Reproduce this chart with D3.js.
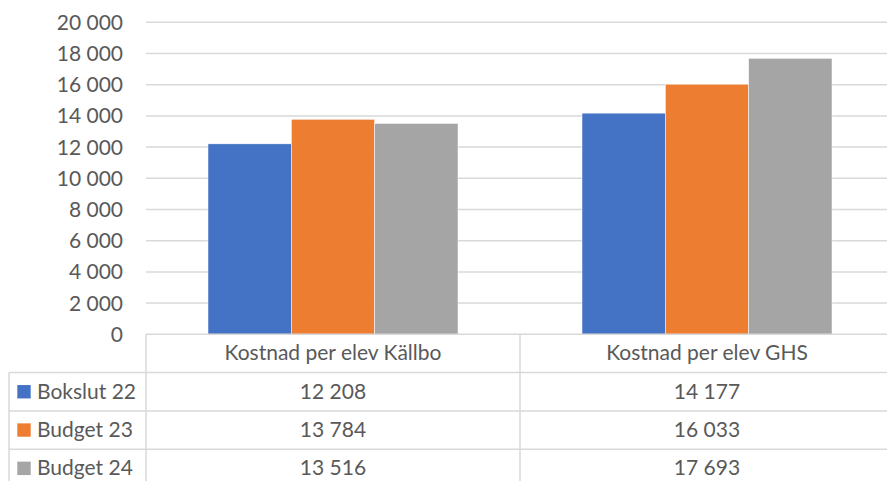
<!DOCTYPE html>
<html>
<head>
<meta charset="utf-8">
<script src="https://cdn.jsdelivr.net/npm/d3@7"></script>
<style>
  body { margin: 0; background: #fff; }
  svg text { font-family: Lato, "Open Sans", sans-serif; fill: #595959; }
</style>
</head>
<body>
<div class="container"></div>
<script>
// data
var categories = ['Kostnad per elev Källbo', 'Kostnad per elev GHS'];
var seriesNames = ['Bokslut 22', 'Budget 23', 'Budget 24'];
var bokslut22 = [12208, 14177];
var budget23 = [13784, 16033];
var budget24 = [13516, 17693];
var yTicks = [0, 2000, 4000, 6000, 8000, 10000, 12000, 14000, 16000, 18000, 20000];
var colors = ['#4472C4', '#ED7D31', '#A5A5A5'];

var seriesValues = [bokslut22, budget23, budget24];

var width = 887, height = 481;
var svg = d3.select('.container')
  .append('svg')
  .attr('width', width)
  .attr('height', height);

// layout
var plotLeft = 146, plotRight = 894,
  plotTop = 22.3, plotBottom = 334.3,
  tableLeft = 9, rowH = 38.3;
var fontSize = '21px';

var fmt = d3.formatLocale({ decimal: ',', thousands: ' ', grouping: [3], currency: ['', ''] }).format(',d');

var y = d3.scaleLinear().domain([0, 20000]).range([plotBottom, plotTop]);
var x0 = d3.scaleBand().domain(categories).range([plotLeft, plotRight]);
var x1 = d3.scaleBand().domain(seriesNames).range([0, x0.bandwidth()]).paddingOuter(0.744);

// gridlines
svg.append('g').selectAll('line')
  .data(yTicks.slice(1))
  .enter()
  .append('line')
  .attr('x1', plotLeft).attr('x2', plotRight)
  .attr('y1', function(d) { return y(d); })
  .attr('y2', function(d) { return y(d); })
  .attr('stroke', '#D9D9D9')
  .attr('stroke-width', 1.5);

// y labels
svg.append('g').selectAll('text')
  .data(yTicks)
  .enter()
  .append('text')
  .attr('x', 123)
  .attr('y', function(d) { return y(d); })
  .attr('dy', '0.36em')
  .attr('text-anchor', 'end')
  .style('font-size', fontSize)
  .text(function(d) { return fmt(d); });

// bars
var groups = svg.append('g').selectAll('g')
  .data(categories)
  .enter()
  .append('g')
  .attr('transform', function(d) { return 'translate(' + x0(d) + ',0)'; });

groups.selectAll('rect')
  .data(function(c, ci) {
    return seriesNames.map(function(s, si) { return { s: s, i: si, v: seriesValues[si][ci] }; });
  })
  .enter()
  .append('rect')
  .attr('x', function(d) { return x1(d.s); })
  .attr('width', x1.bandwidth())
  .attr('y', function(d) { return y(d.v); })
  .attr('height', function(d) { return plotBottom - y(d.v); })
  .attr('fill', function(d) { return colors[d.i]; })
  .attr('stroke', '#fff')
  .attr('stroke-width', 0.5);

// data table
var table = svg.append('g');
var rowsY = [plotBottom];
for (var r = 1; r <= 4; r++) rowsY.push(plotBottom + rowH * r);

var hLines = rowsY.map(function(yy, i) { return { y: yy, x1: i === 0 ? plotLeft : tableLeft }; });
table.selectAll('line.h')
  .data(hLines)
  .enter()
  .append('line')
  .attr('class', 'h')
  .attr('x1', function(d) { return d.x1; })
  .attr('x2', plotRight)
  .attr('y1', function(d) { return d.y; })
  .attr('y2', function(d) { return d.y; })
  .attr('stroke', '#D9D9D9')
  .attr('stroke-width', 1.5);

var vLines = [
  { x: tableLeft, y1: rowsY[1] },
  { x: plotLeft, y1: plotBottom },
  { x: x0(categories[1]), y1: plotBottom }
];
table.selectAll('line.v')
  .data(vLines)
  .enter()
  .append('line')
  .attr('class', 'v')
  .attr('x1', function(d) { return d.x; })
  .attr('x2', function(d) { return d.x; })
  .attr('y1', function(d) { return d.y1; })
  .attr('y2', rowsY[4])
  .attr('stroke', '#D9D9D9')
  .attr('stroke-width', 1.5);

// header
table.selectAll('text.head')
  .data(categories)
  .enter()
  .append('text')
  .attr('class', 'head')
  .attr('x', function(d) { return x0(d) + x0.bandwidth() / 2; })
  .attr('y', rowsY[0] + 26)
  .attr('text-anchor', 'middle')
  .style('font-size', fontSize)
  .text(function(d) { return d; });

// series rows
seriesNames.forEach(function(s, si) {
  var top = rowsY[si + 1];
  table.append('rect')
    .attr('x', 17.3)
    .attr('y', top + rowH / 2 - 6.7)
    .attr('width', 13.4)
    .attr('height', 13.4)
    .attr('fill', colors[si]);
  table.append('text')
    .attr('x', 37)
    .attr('y', top + 26)
    .style('font-size', fontSize)
    .text(s);
  table.selectAll('text.v' + si)
    .data(categories)
    .enter()
    .append('text')
    .attr('x', function(d) { return x0(d) + x0.bandwidth() / 2; })
    .attr('y', top + 26)
    .attr('text-anchor', 'middle')
    .style('font-size', fontSize)
    .text(function(d, ci) { return fmt(seriesValues[si][ci]); });
});
</script>
</body>
</html>
